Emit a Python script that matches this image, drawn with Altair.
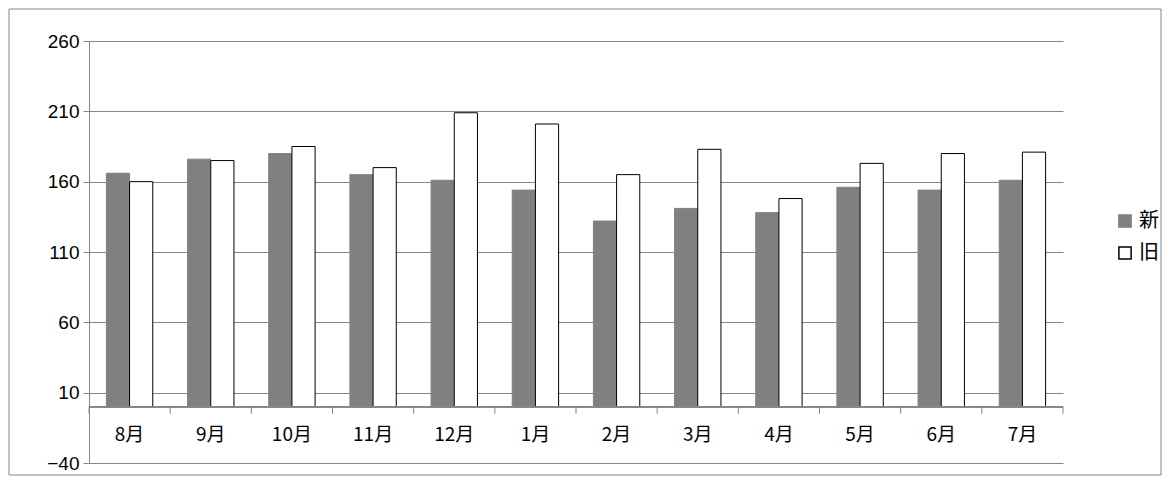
import altair as alt
import pandas as pd

months = ["8月", "9月", "10月", "11月", "12月", "1月", "2月", "3月", "4月", "5月", "6月", "7月"]
new_vals = [166, 176, 180, 165, 161, 154, 132, 141, 138, 156, 154, 161]
old_vals = [160, 175, 185, 170, 209, 201, 165, 183, 148, 173, 180, 181]

rows = []
for m, n, o in zip(months, new_vals, old_vals):
    rows.append({"month": m, "series": "新", "value": n})
    rows.append({"month": m, "series": "旧", "value": o})
df = pd.DataFrame(rows)
mdf = pd.DataFrame({"month": months, "y": [-20] * 12, "y0": [0] * 12, "y1": [-5] * 12})

FONT = "Noto Sans CJK JP"
NUMFONT = "Liberation Sans"
xscale = alt.Scale(domain=months, paddingInner=0, paddingOuter=0)
yscale = alt.Scale(domain=[-40, 260], nice=False)

bars = alt.Chart(df).mark_bar(strokeWidth=1).encode(
    x=alt.X("month:N", scale=xscale, axis=None, sort=months),
    xOffset=alt.XOffset("series:N", sort=["新", "旧"],
                        scale=alt.Scale(paddingInner=0, paddingOuter=0.75)),
    y=alt.Y("value:Q", scale=yscale, title=None,
            axis=alt.Axis(values=list(range(-40, 261, 50)), grid=True, gridColor="#868686",
                          domainColor="#868686", tickColor="#868686", tickSize=6,
                          labelFont=NUMFONT, labelFontSize=19, labelColor="black", labelPadding=4)),
    y2=alt.datum(0),
    fill=alt.Fill("series:N", sort=["新", "旧"],
                  scale=alt.Scale(domain=["新", "旧"], range=["#808080", "#ffffff"]),
                  legend=alt.Legend(title=None, orient="none", legendX=1026, legendY=170,
                                    symbolType="square", symbolSize=150, labelFont=FONT,
                                    labelFontSize=20, labelColor="black", rowPadding=12)),
    stroke=alt.Stroke("series:N", sort=["新", "旧"],
                      scale=alt.Scale(domain=["新", "旧"], range=["#808080", "#000000"])),
)

zero = alt.Chart(mdf).mark_rule(color="#868686").encode(y=alt.datum(0), x=alt.value(0), x2=alt.value(974))
ticks = alt.Chart(mdf).mark_rule(color="#868686").encode(
    x=alt.X("month:N", scale=xscale, sort=months, bandPosition=0, axis=None),
    y=alt.Y("y0:Q", scale=yscale), y2="y1:Q")
last_tick = alt.Chart(mdf.tail(1)).mark_rule(color="#868686").encode(
    x=alt.X("month:N", scale=xscale, sort=months, bandPosition=1, axis=None),
    y=alt.Y("y0:Q", scale=yscale), y2="y1:Q")
labels = alt.Chart(mdf).mark_text(font=FONT, fontSize=19).encode(
    x=alt.X("month:N", scale=xscale, sort=months, axis=None),
    y=alt.Y("y:Q", scale=yscale), text="month:N")
border = alt.Chart(mdf.head(1)).mark_rect(fill=None, stroke="#868686").encode(
    x=alt.value(-80), x2=alt.value(1072), y=alt.value(-32), y2=alt.value(434))

chart = alt.layer(border, bars, zero, ticks, last_tick, labels).properties(
    width=974, height=422,
    autosize=alt.AutoSizeParams(type="none"),
    padding={"left": 81, "top": 33, "right": 100, "bottom": 13},
).configure_view(stroke=None)

chart.save("out.html", embed_options={"renderer": "svg", "actions": False})
